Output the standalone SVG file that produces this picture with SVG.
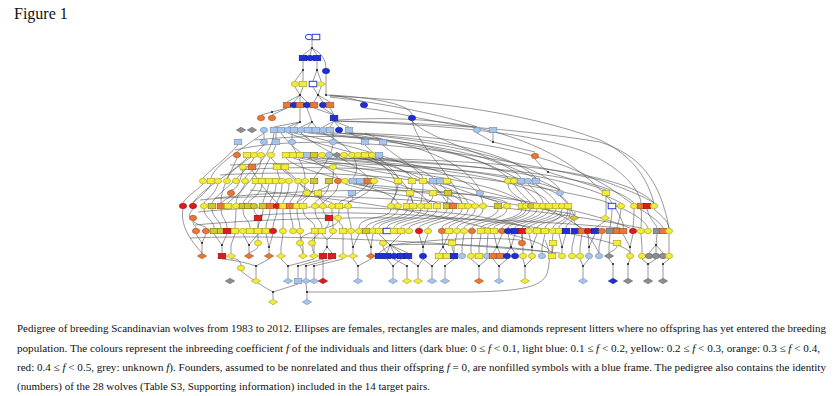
<svg xmlns="http://www.w3.org/2000/svg" width="839" height="396" viewBox="0 0 839 396">
<style>
.db{fill:#1f2fd6;stroke:#0d1590}
.lb{fill:#a9c4e8;stroke:#6d8db8}
.y{fill:#f3ec3a;stroke:#a39c1c}
.ol{fill:#d2c832;stroke:#7d7614}
.o{fill:#e77838;stroke:#a24e1c}
.r{fill:#e01b1b;stroke:#8c0c0c}
.g{fill:#8e8e8e;stroke:#606060}
.f{fill:#fff;stroke:#2a3be0;stroke-width:1}
use{stroke-width:.6}
.c{fill:none;stroke:#505050;stroke-width:.65;stroke-opacity:.9}
.j{fill:#222}
.t{font-family:"Liberation Serif","Times New Roman",serif;fill:#111}
</style>
<defs>
<ellipse id="E" rx="3.6" ry="2.7"/>
<rect id="R" x="-3.8" y="-2.7" width="7.6" height="5.4"/>
<path id="D" d="M-4.6,0L0,-2.7L4.6,0L0,2.7Z"/>
</defs>
<rect width="839" height="396" fill="#fff"/>
<text class="t" x="14" y="19" font-size="16">Figure 1</text>
<g id="connectors">
<path class="c" d="M312,40V48M312,48L303,55M312,48L310,55M312,48L317,55M312,48Q326,55 326,68M303,61V70L295,81M303,70V81M317,61V70L313,81M317,70L321,81M326,74V95M295,87L300,95M303,87L300,95M300,95L287,102M300,95L294,102M300,95L300,102M300,95L307,102M313,87L318,95M321,87L318,95M318,95L314,102M318,95L323,102M318,95L330,102M326,95C345,96 355,100 364,102M330,95C380,98 410,105 412,115M330,96C420,100 520,110 600,140C625,152 645,170 654,203M330,97C400,105 460,120 477,127"/>
<path class="c" d="M287,108L272,112L261,115M287,108L272,115M300,108L300,122M307,108L312,122M314,108L334,115M323,108L334,115M330,108L334,115M334,121C400,122 500,126 600,142C640,155 660,180 669,228M334,121C420,124 520,130 580,150C620,165 640,190 641,203M300,122L288,127M300,122L294,127M300,122L274,127M312,122L301,127M312,122L308,127M312,122L316,127M334,121L323,127M334,121L330,127M334,121L339,127M334,121L349,127M364,108C400,112 440,125 477,127M412,121C420,150 450,170 462,203M493,133V142M477,133L493,142M493,142L535,152M535,159C540,165 545,170 548,172L606,190M412,121C430,140 480,150 560,190"/>
<path class="c" d="M264,133C240,150 215,165 211,178M274,133C270,160 250,170 245,178M281,133C300,160 330,165 338,178M288,133C330,150 400,160 412,178M294,133C350,145 420,165 433,178M301,133C320,150 360,165 368,178M308,133C380,140 480,150 508,178M316,133C390,140 500,150 521,178M323,133C360,150 360,170 353,178M330,133C420,135 510,150 536,178M339,133C400,140 460,155 480,190M349,133C430,140 540,160 560,190M238,145C225,160 210,170 203,178M264,145C250,160 230,170 227,178M276,145C270,160 262,170 262,178M292,145C300,160 305,170 305,178M333,145C330,160 320,170 314,178M365,145C380,160 395,170 398,178M383,145C400,160 420,170 423,178M264,133V139M276,133V139M292,133L292,139M333,133V139M349,133C360,138 365,140 365,139M365,133C375,138 383,139 383,139"/>
<path class="c" d="M247,158C230,175 200,190 193,203M254,158C240,180 215,195 212,203M261,158C262,175 236,190 236,203M271,158C290,180 320,195 323,203M286,158C300,175 390,185 398,203M293,158C330,170 420,180 428,203M300,158C360,170 460,180 468,203M307,158C380,170 500,180 522,203M313,158C400,165 530,175 549,203M322,158C420,165 550,175 568,203M329,158C430,160 560,170 621,203M344,158C440,165 600,170 634,203M352,158C450,160 620,165 654,203M358,158C420,170 440,190 447,203M364,158C400,170 410,190 413,203M372,158C400,175 400,190 391,203M379,158C450,170 480,185 483,203M237,158C230,175 220,190 221,203M243,170C240,180 238,190 231,190M252,170C260,185 270,195 277,203M277,170C280,180 282,188 282,178M285,170C300,180 303,190 307,190M333,170C335,180 330,188 318,190"/>
<path class="c" d="M203,184C195,192 185,198 183,203M211,184C205,195 195,200 193,203M218,184C215,195 205,200 204,203M245,184C240,195 230,200 228,203M256,184C250,195 244,200 243,203M262,184C262,195 248,200 248,203M269,184C266,195 263,200 263,203M276,184C276,195 270,200 270,203M282,184C282,195 277,200 277,203M289,184C289,195 283,200 283,203M298,184C298,195 290,200 290,203M305,184C305,195 297,200 297,203M314,184C314,195 303,200 303,203M329,184C329,195 315,200 315,203M338,184C338,195 323,200 323,203M345,184C380,195 420,195 437,203M353,184C400,192 470,195 475,203M360,184C420,190 500,195 507,203M368,184C360,195 340,200 339,203M374,184C370,195 350,200 348,203M398,184C398,195 391,200 391,203M412,184C412,195 407,200 407,203M423,184C423,195 421,200 421,203M433,184C440,195 453,200 453,203M440,184C450,195 462,200 462,203M447,184C470,195 498,200 498,203M508,184C508,195 526,200 526,203M514,184C520,195 530,200 530,203M521,184C530,195 537,200 537,203M528,184C540,195 543,200 543,203M536,184C550,195 556,200 556,203M480,196C500,205 560,210 574,215M560,196C570,205 572,212 574,215M606,196V215M231,196C225,200 222,202 221,203M307,196C300,200 298,202 297,203M318,196C320,200 332,202 332,203M352,196C355,200 348,202 348,203M410,196C412,200 413,202 413,203M433,196C433,200 428,202 428,203M448,196C448,200 447,202 447,203"/>
<path class="c" d="M235,150C300,135 420,140 600,180C630,190 650,200 654,203M240,170C300,165 450,165 600,200C630,210 645,220 648,228M200,200C300,190 500,200 641,228M195,225C300,215 480,215 620,228M190,238C260,235 400,238 560,253M215,198C350,185 520,185 630,228M230,165C330,160 500,165 560,190M255,140C350,130 450,140 520,180M338,120C420,115 540,120 610,200C620,215 625,225 623,228M349,133C450,135 560,150 620,195C640,210 660,220 663,228M220,175C300,170 460,172 560,215C580,225 590,235 599,253M250,190C350,200 430,210 530,240C545,245 550,250 552,253M260,215C340,210 480,212 600,240C620,245 630,250 630,253M198,212C260,205 380,205 470,215C500,220 520,225 529,228M183,209C180,225 190,240 202,253M193,209C188,215 188,220 193,215M654,209C660,215 668,220 669,228M605,221C600,225 595,228 595,228M574,221C575,225 582,228 582,228M612,209C612,218 610,225 610,228M621,209C620,220 617,225 617,228M634,209C634,220 633,225 633,228M641,209C642,218 641,225 641,228M647,209C650,220 657,225 657,228"/>
<path class="c" d="M204,209C204,218 214,220 214,228M212,209C212,218 221,220 221,228M221,209C221,218 227,220 227,228M236,209C236,218 235,222 235,228M243,209C243,220 250,220 250,228M254,209C254,215 258,215 258,215M263,209C263,220 258,222 258,228M270,209C270,218 266,220 266,228M277,209C277,218 273,220 273,228M283,209C283,218 283,222 283,228M290,209C290,220 293,220 293,228M297,209C297,220 300,220 300,228M303,209C303,220 315,220 315,228M315,209C315,220 322,220 322,228M323,209C323,216 329,215 329,215M332,209C332,220 333,220 333,228M339,209C339,215 338,215 338,215M339,221C339,224 343,225 343,228M348,209C348,220 351,220 351,228M391,209C391,220 359,215 359,228M398,209C398,220 366,220 366,228M407,209C407,220 373,220 373,228M413,209C413,220 379,220 379,228M421,209C421,220 387,220 387,228M428,209C428,220 394,220 394,228M437,209C437,220 401,222 401,228M447,209C447,220 409,222 409,228M453,209C453,220 419,222 419,228M462,209C462,220 428,222 428,228M468,209C468,220 442,222 442,228M475,209C475,220 449,222 449,228M483,209C483,220 457,222 457,228M498,209C498,220 464,222 464,228M507,209C507,220 472,222 472,228M522,209C522,220 481,222 481,228M526,209C526,220 488,222 488,228M530,209C530,220 494,222 494,228M537,209C537,220 502,222 502,228M543,209C543,220 508,222 508,228M549,209C549,220 515,222 515,228M556,209C556,220 522,222 522,228M562,209C562,220 529,222 529,228M568,209C568,220 537,222 537,228M562,212C560,222 545,222 545,228M568,212C568,222 553,222 553,228M570,210C572,222 559,222 559,228M575,212C576,222 566,222 566,228M193,221C193,226 196,226 196,228M193,221C198,226 206,226 206,228M258,221C258,230 258,236 258,240M329,221C329,228 322,230 312,240M338,221C338,228 300,232 300,240"/>
<path class="c" d="M202,253V243L196,234M202,243L206,234M222,253V245L214,234M222,245L227,234M231,253V245L235,234M249,253V245L243,234M249,245L258,234M269,253V247L266,234M269,247L273,234M281,253V247L283,234M303,253V247L300,234M314,253V247L315,234M327,247L323,253M327,247L332,253M327,247V240L322,234M327,240L333,234M343,253V247L343,234M353,253V247L351,234M353,247L359,234M371,253V247L366,234M371,247L373,234M390,245L379,253M390,245L387,253M390,245L394,253M390,245L401,253M390,245L408,253M390,245L379,234M390,245L401,234M390,245C430,240 480,236 520,240M390,245C440,243 500,245 548,252M423,253V247L419,234M423,247L428,234M443,247L439,253M443,247L447,253M443,247L442,234M443,247L449,234M454,253V246L457,234M462,253V247L464,234M471,253V247L472,234M479,253V247L481,234M487,253V247L488,234M497,247L493,253M497,247L500,253M497,247L494,234M497,247L502,234M511,247L507,253M511,247L515,253M511,247L508,234M511,247L515,234M523,253V247L522,234M532,253V247L529,234M532,247L537,234M542,253V247L545,234M552,253V246L553,234M562,253V247L559,234M562,247L566,234M572,253V247L575,234M580,253V247L582,234M589,253V247L588,234M589,247L595,234M599,253V247L602,234M609,253V247L610,234M630,253V247L623,234M630,247L633,234M642,253V247L641,234M656,245L649,253M656,245L656,253M656,245L663,253M656,245L657,234M669,253V234M258,246C258,250 250,252 249,253M300,246C302,250 303,252 303,253M312,246C312,250 314,252 314,253M383,246C383,250 387,252 387,253M452,246C452,250 454,252 454,253M522,234V240M553,246C553,250 552,252 552,253M617,246C617,250 609,252 609,253"/>
<path class="c" d="M256,278V266M256,266C245,262 232,260 222,259M256,266L269,259M288,278V266L281,259M288,266L314,259M298,278V266L323,259M306,278V266L332,259M314,278V266L343,259M323,278V259M358,278V266L353,259M358,266L371,259M393,278V266L387,259M393,266L401,259M407,278V266L394,259M418,278V266L408,259M418,266L423,259M432,278V266L423,259M432,266L439,259M445,278V266L454,259M479,278V266L471,259M479,266L487,259M499,278V266L493,259M499,266L507,259M525,278V266L523,259M525,266L532,259M583,278V266L580,259M583,266L589,259M613,278V264L609,259M628,278V264L630,259M648,278V264L642,259M648,264L656,259M663,278V264L669,259M241,265C240,260 236,258 231,259M273,299V292M273,292C262,286 250,278 241,271M273,292L298,284M307,299V292L306,284M307,292H470C520,291 545,288 548,270C550,260 550,250 545,240"/>
<g class="j">
<circle cx="312" cy="48" r="1.1"/><circle cx="303" cy="70" r="1.1"/><circle cx="317" cy="70" r="1.1"/><circle cx="300" cy="95" r="1.1"/><circle cx="318" cy="95" r="1.1"/><circle cx="326" cy="95" r="1.1"/><circle cx="300" cy="122" r="1.1"/><circle cx="312" cy="122" r="1.1"/><circle cx="272" cy="112" r="1.1"/><circle cx="493" cy="142" r="1.1"/><circle cx="548" cy="172" r="1.1"/>
<circle cx="202" cy="243" r="1.1"/><circle cx="222" cy="245" r="1.1"/><circle cx="249" cy="245" r="1.1"/><circle cx="269" cy="247" r="1.1"/><circle cx="327" cy="247" r="1.1"/><circle cx="353" cy="247" r="1.1"/><circle cx="371" cy="247" r="1.1"/><circle cx="390" cy="245" r="1.1"/><circle cx="423" cy="247" r="1.1"/><circle cx="443" cy="247" r="1.1"/><circle cx="497" cy="247" r="1.1"/><circle cx="511" cy="247" r="1.1"/><circle cx="532" cy="247" r="1.1"/><circle cx="562" cy="247" r="1.1"/><circle cx="589" cy="247" r="1.1"/><circle cx="630" cy="247" r="1.1"/><circle cx="656" cy="245" r="1.1"/>
<circle cx="256" cy="266" r="1.1"/><circle cx="288" cy="266" r="1.1"/><circle cx="298" cy="266" r="1.1"/><circle cx="306" cy="266" r="1.1"/><circle cx="314" cy="266" r="1.1"/><circle cx="358" cy="266" r="1.1"/><circle cx="393" cy="266" r="1.1"/><circle cx="407" cy="266" r="1.1"/><circle cx="418" cy="266" r="1.1"/><circle cx="432" cy="266" r="1.1"/><circle cx="445" cy="266" r="1.1"/><circle cx="479" cy="266" r="1.1"/><circle cx="499" cy="266" r="1.1"/><circle cx="525" cy="266" r="1.1"/><circle cx="583" cy="266" r="1.1"/><circle cx="613" cy="264" r="1.1"/><circle cx="628" cy="264" r="1.1"/><circle cx="648" cy="264" r="1.1"/><circle cx="663" cy="264" r="1.1"/><circle cx="273" cy="292" r="1.1"/><circle cx="307" cy="292" r="1.1"/>
</g>
</g>
<g id="nodes">
<g id="n1"><use href="#E" class="f" x="309" y="37"/></g>
<g id="n2"><use href="#R" class="f" x="316" y="37"/></g>
<g id="n3"><use href="#R" class="db" x="303" y="58"/></g>
<g id="n4"><use href="#E" class="db" x="310" y="58"/></g>
<g id="n5"><use href="#R" class="db" x="317" y="58"/></g>
<g id="n6"><use href="#E" class="db" x="326" y="71"/></g>
<g id="n7"><use href="#E" class="y" x="295" y="84"/></g>
<g id="n8"><use href="#R" class="y" x="303" y="84"/></g>
<g id="n9"><use href="#R" class="f" x="313" y="84"/></g>
<g id="n10"><use href="#D" class="y" x="321" y="84"/></g>
<g id="n11"><use href="#R" class="o" x="287" y="105"/></g>
<g id="n12"><use href="#E" class="db" x="294" y="105"/></g>
<g id="n13"><use href="#R" class="o" x="300" y="105"/></g>
<g id="n14"><use href="#E" class="db" x="307" y="105"/></g>
<g id="n15"><use href="#R" class="o" x="314" y="105"/></g>
<g id="n16"><use href="#E" class="db" x="323" y="105"/></g>
<g id="n17"><use href="#R" class="o" x="330" y="105"/></g>
<g id="n18"><use href="#E" class="db" x="364" y="105"/></g>
<g id="n19"><use href="#E" class="o" x="261" y="118"/></g>
<g id="n20"><use href="#E" class="o" x="272" y="118"/></g>
<g id="n21"><use href="#R" class="db" x="334" y="118"/></g>
<g id="n22"><use href="#E" class="db" x="412" y="118"/></g>
<g id="n23"><use href="#D" class="g" x="241" y="130"/></g>
<g id="n24"><use href="#D" class="g" x="252" y="130"/></g>
<g id="n25"><use href="#E" class="lb" x="264" y="130"/></g>
<g id="n26"><use href="#R" class="lb" x="274" y="130"/></g>
<g id="n27"><use href="#R" class="lb" x="281" y="130"/></g>
<g id="n28"><use href="#E" class="lb" x="288" y="130"/></g>
<g id="n29"><use href="#R" class="lb" x="294" y="130"/></g>
<g id="n30"><use href="#E" class="lb" x="301" y="130"/></g>
<g id="n31"><use href="#R" class="lb" x="308" y="130"/></g>
<g id="n32"><use href="#R" class="lb" x="316" y="130"/></g>
<g id="n33"><use href="#E" class="lb" x="323" y="130"/></g>
<g id="n34"><use href="#R" class="lb" x="330" y="130"/></g>
<g id="n35"><use href="#E" class="db" x="339" y="130"/></g>
<g id="n36"><use href="#R" class="lb" x="349" y="130"/></g>
<g id="n37"><use href="#E" class="lb" x="477" y="130"/></g>
<g id="n38"><use href="#R" class="lb" x="493" y="130"/></g>
<g id="n39"><use href="#R" class="lb" x="238" y="142"/></g>
<g id="n40"><use href="#E" class="lb" x="264" y="142"/></g>
<g id="n41"><use href="#R" class="lb" x="276" y="142"/></g>
<g id="n42"><use href="#E" class="lb" x="292" y="142"/></g>
<g id="n43"><use href="#E" class="lb" x="333" y="142"/></g>
<g id="n44"><use href="#R" class="lb" x="365" y="142"/></g>
<g id="n45"><use href="#R" class="lb" x="383" y="142"/></g>
<g id="n46"><use href="#E" class="o" x="237" y="155"/></g>
<g id="n47"><use href="#R" class="y" x="247" y="155"/></g>
<g id="n48"><use href="#E" class="y" x="254" y="155"/></g>
<g id="n49"><use href="#E" class="y" x="261" y="155"/></g>
<g id="n50"><use href="#E" class="y" x="271" y="155"/></g>
<g id="n51"><use href="#R" class="y" x="286" y="155"/></g>
<g id="n52"><use href="#R" class="y" x="293" y="155"/></g>
<g id="n53"><use href="#R" class="y" x="300" y="155"/></g>
<g id="n54"><use href="#R" class="lb" x="307" y="155"/></g>
<g id="n55"><use href="#R" class="ol" x="314" y="155"/></g>
<g id="n56"><use href="#E" class="y" x="322" y="155"/></g>
<g id="n57"><use href="#E" class="lb" x="329" y="155"/></g>
<g id="n58"><use href="#D" class="g" x="337" y="155"/></g>
<g id="n59"><use href="#E" class="y" x="344" y="155"/></g>
<g id="n60"><use href="#E" class="y" x="352" y="155"/></g>
<g id="n61"><use href="#E" class="y" x="358" y="155"/></g>
<g id="n62"><use href="#R" class="y" x="365" y="155"/></g>
<g id="n63"><use href="#E" class="y" x="372" y="155"/></g>
<g id="n64"><use href="#R" class="lb" x="379" y="155"/></g>
<g id="n65"><use href="#E" class="o" x="535" y="156"/></g>
<g id="n66"><use href="#E" class="y" x="243" y="167"/></g>
<g id="n67"><use href="#R" class="o" x="252" y="167"/></g>
<g id="n68"><use href="#R" class="y" x="277" y="167"/></g>
<g id="n69"><use href="#R" class="y" x="285" y="167"/></g>
<g id="n70"><use href="#E" class="y" x="333" y="167"/></g>
<g id="n71"><use href="#E" class="y" x="203" y="181"/></g>
<g id="n72"><use href="#R" class="y" x="211" y="181"/></g>
<g id="n73"><use href="#E" class="y" x="218" y="181"/></g>
<g id="n74"><use href="#E" class="y" x="227" y="181"/></g>
<g id="n75"><use href="#E" class="y" x="236" y="181"/></g>
<g id="n76"><use href="#E" class="y" x="245" y="181"/></g>
<g id="n77"><use href="#R" class="y" x="256" y="181"/></g>
<g id="n78"><use href="#R" class="y" x="262" y="181"/></g>
<g id="n79"><use href="#R" class="y" x="269" y="181"/></g>
<g id="n80"><use href="#R" class="y" x="276" y="181"/></g>
<g id="n81"><use href="#E" class="y" x="282" y="181"/></g>
<g id="n82"><use href="#E" class="y" x="289" y="181"/></g>
<g id="n83"><use href="#E" class="y" x="298" y="181"/></g>
<g id="n84"><use href="#E" class="y" x="305" y="181"/></g>
<g id="n85"><use href="#R" class="ol" x="314" y="181"/></g>
<g id="n86"><use href="#R" class="ol" x="329" y="181"/></g>
<g id="n87"><use href="#E" class="o" x="338" y="181"/></g>
<g id="n88"><use href="#E" class="y" x="345" y="181"/></g>
<g id="n89"><use href="#R" class="lb" x="353" y="181"/></g>
<g id="n90"><use href="#R" class="lb" x="360" y="181"/></g>
<g id="n91"><use href="#R" class="o" x="368" y="181"/></g>
<g id="n92"><use href="#E" class="y" x="374" y="181"/></g>
<g id="n93"><use href="#R" class="y" x="398" y="181"/></g>
<g id="n94"><use href="#R" class="y" x="412" y="181"/></g>
<g id="n95"><use href="#R" class="y" x="423" y="181"/></g>
<g id="n96"><use href="#R" class="lb" x="433" y="181"/></g>
<g id="n97"><use href="#R" class="lb" x="440" y="181"/></g>
<g id="n98"><use href="#R" class="y" x="447" y="181"/></g>
<g id="n99"><use href="#E" class="y" x="508" y="181"/></g>
<g id="n100"><use href="#E" class="y" x="514" y="181"/></g>
<g id="n101"><use href="#R" class="lb" x="521" y="181"/></g>
<g id="n102"><use href="#E" class="lb" x="528" y="181"/></g>
<g id="n103"><use href="#R" class="lb" x="536" y="181"/></g>
<g id="n104"><use href="#E" class="o" x="231" y="193"/></g>
<g id="n105"><use href="#E" class="y" x="307" y="193"/></g>
<g id="n106"><use href="#R" class="y" x="318" y="193"/></g>
<g id="n107"><use href="#R" class="lb" x="352" y="193"/></g>
<g id="n108"><use href="#R" class="y" x="410" y="193"/></g>
<g id="n109"><use href="#R" class="y" x="433" y="193"/></g>
<g id="n110"><use href="#R" class="ol" x="448" y="193"/></g>
<g id="n111"><use href="#E" class="lb" x="480" y="193"/></g>
<g id="n112"><use href="#E" class="lb" x="560" y="193"/></g>
<g id="n113"><use href="#R" class="y" x="606" y="193"/></g>
<g id="n114"><use href="#E" class="r" x="183" y="206"/></g>
<g id="n115"><use href="#E" class="r" x="193" y="206"/></g>
<g id="n116"><use href="#E" class="y" x="204" y="206"/></g>
<g id="n117"><use href="#R" class="ol" x="212" y="206"/></g>
<g id="n118"><use href="#R" class="o" x="221" y="206"/></g>
<g id="n119"><use href="#R" class="y" x="228" y="206"/></g>
<g id="n120"><use href="#E" class="y" x="236" y="206"/></g>
<g id="n121"><use href="#R" class="ol" x="243" y="206"/></g>
<g id="n122"><use href="#R" class="ol" x="248" y="206"/></g>
<g id="n123"><use href="#E" class="ol" x="254" y="206"/></g>
<g id="n124"><use href="#R" class="ol" x="263" y="206"/></g>
<g id="n125"><use href="#R" class="o" x="270" y="206"/></g>
<g id="n126"><use href="#E" class="r" x="277" y="206"/></g>
<g id="n127"><use href="#R" class="y" x="283" y="206"/></g>
<g id="n128"><use href="#R" class="o" x="290" y="206"/></g>
<g id="n129"><use href="#R" class="y" x="297" y="206"/></g>
<g id="n130"><use href="#R" class="y" x="303" y="206"/></g>
<g id="n131"><use href="#E" class="y" x="315" y="206"/></g>
<g id="n132"><use href="#E" class="y" x="323" y="206"/></g>
<g id="n133"><use href="#E" class="y" x="332" y="206"/></g>
<g id="n134"><use href="#R" class="y" x="339" y="206"/></g>
<g id="n135"><use href="#E" class="y" x="348" y="206"/></g>
<g id="n136"><use href="#E" class="y" x="391" y="206"/></g>
<g id="n137"><use href="#E" class="y" x="398" y="206"/></g>
<g id="n138"><use href="#R" class="y" x="407" y="206"/></g>
<g id="n139"><use href="#R" class="y" x="413" y="206"/></g>
<g id="n140"><use href="#E" class="y" x="421" y="206"/></g>
<g id="n141"><use href="#R" class="y" x="428" y="206"/></g>
<g id="n142"><use href="#R" class="y" x="437" y="206"/></g>
<g id="n143"><use href="#R" class="ol" x="447" y="206"/></g>
<g id="n144"><use href="#R" class="o" x="453" y="206"/></g>
<g id="n145"><use href="#R" class="y" x="462" y="206"/></g>
<g id="n146"><use href="#E" class="y" x="468" y="206"/></g>
<g id="n147"><use href="#E" class="y" x="475" y="206"/></g>
<g id="n148"><use href="#E" class="y" x="483" y="206"/></g>
<g id="n149"><use href="#R" class="ol" x="498" y="206"/></g>
<g id="n150"><use href="#E" class="y" x="507" y="206"/></g>
<g id="n151"><use href="#R" class="y" x="522" y="206"/></g>
<g id="n152"><use href="#E" class="y" x="526" y="206"/></g>
<g id="n153"><use href="#E" class="ol" x="531" y="206"/></g>
<g id="n154"><use href="#R" class="y" x="537" y="206"/></g>
<g id="n155"><use href="#E" class="y" x="543" y="206"/></g>
<g id="n156"><use href="#R" class="y" x="549" y="206"/></g>
<g id="n157"><use href="#R" class="y" x="556" y="206"/></g>
<g id="n158"><use href="#E" class="y" x="562" y="206"/></g>
<g id="n159"><use href="#R" class="y" x="568" y="206"/></g>
<g id="n160"><use href="#R" class="f" x="612" y="206"/></g>
<g id="n161"><use href="#E" class="y" x="621" y="206"/></g>
<g id="n162"><use href="#E" class="y" x="634" y="206"/></g>
<g id="n163"><use href="#R" class="o" x="641" y="206"/></g>
<g id="n164"><use href="#R" class="r" x="647" y="206"/></g>
<g id="n165"><use href="#E" class="y" x="654" y="206"/></g>
<g id="n166"><use href="#E" class="o" x="193" y="218"/></g>
<g id="n167"><use href="#R" class="r" x="258" y="218"/></g>
<g id="n168"><use href="#R" class="r" x="329" y="218"/></g>
<g id="n169"><use href="#E" class="y" x="338" y="218"/></g>
<g id="n170"><use href="#D" class="ol" x="574" y="218"/></g>
<g id="n171"><use href="#D" class="y" x="605" y="218"/></g>
<g id="n172"><use href="#E" class="o" x="196" y="231"/></g>
<g id="n173"><use href="#E" class="o" x="206" y="231"/></g>
<g id="n174"><use href="#R" class="ol" x="214" y="231"/></g>
<g id="n175"><use href="#R" class="ol" x="221" y="231"/></g>
<g id="n176"><use href="#R" class="r" x="227" y="231"/></g>
<g id="n177"><use href="#R" class="y" x="235" y="231"/></g>
<g id="n178"><use href="#E" class="y" x="243" y="231"/></g>
<g id="n179"><use href="#R" class="y" x="250" y="231"/></g>
<g id="n180"><use href="#R" class="y" x="258" y="231"/></g>
<g id="n181"><use href="#R" class="y" x="266" y="231"/></g>
<g id="n182"><use href="#E" class="r" x="273" y="231"/></g>
<g id="n183"><use href="#E" class="y" x="283" y="231"/></g>
<g id="n184"><use href="#E" class="y" x="293" y="231"/></g>
<g id="n185"><use href="#E" class="y" x="300" y="231"/></g>
<g id="n186"><use href="#R" class="y" x="315" y="231"/></g>
<g id="n187"><use href="#R" class="y" x="322" y="231"/></g>
<g id="n188"><use href="#E" class="y" x="333" y="231"/></g>
<g id="n189"><use href="#R" class="y" x="343" y="231"/></g>
<g id="n190"><use href="#E" class="y" x="351" y="231"/></g>
<g id="n191"><use href="#E" class="y" x="359" y="231"/></g>
<g id="n192"><use href="#R" class="ol" x="366" y="231"/></g>
<g id="n193"><use href="#E" class="y" x="373" y="231"/></g>
<g id="n194"><use href="#R" class="y" x="379" y="231"/></g>
<g id="n195"><use href="#R" class="f" x="387" y="231"/></g>
<g id="n196"><use href="#R" class="y" x="394" y="231"/></g>
<g id="n197"><use href="#R" class="y" x="401" y="231"/></g>
<g id="n198"><use href="#E" class="y" x="409" y="231"/></g>
<g id="n199"><use href="#E" class="r" x="419" y="231"/></g>
<g id="n200"><use href="#E" class="y" x="428" y="231"/></g>
<g id="n201"><use href="#E" class="o" x="442" y="231"/></g>
<g id="n202"><use href="#R" class="y" x="449" y="231"/></g>
<g id="n203"><use href="#E" class="y" x="457" y="231"/></g>
<g id="n204"><use href="#E" class="y" x="464" y="231"/></g>
<g id="n205"><use href="#E" class="o" x="472" y="231"/></g>
<g id="n206"><use href="#R" class="y" x="481" y="231"/></g>
<g id="n207"><use href="#E" class="y" x="488" y="231"/></g>
<g id="n208"><use href="#R" class="y" x="494" y="231"/></g>
<g id="n209"><use href="#E" class="o" x="502" y="231"/></g>
<g id="n210"><use href="#E" class="db" x="508" y="231"/></g>
<g id="n211"><use href="#R" class="db" x="515" y="231"/></g>
<g id="n212"><use href="#R" class="r" x="522" y="231"/></g>
<g id="n213"><use href="#E" class="y" x="529" y="231"/></g>
<g id="n214"><use href="#R" class="y" x="537" y="231"/></g>
<g id="n215"><use href="#R" class="y" x="545" y="231"/></g>
<g id="n216"><use href="#E" class="y" x="553" y="231"/></g>
<g id="n217"><use href="#R" class="y" x="559" y="231"/></g>
<g id="n218"><use href="#R" class="db" x="566" y="231"/></g>
<g id="n219"><use href="#R" class="db" x="575" y="231"/></g>
<g id="n220"><use href="#R" class="o" x="582" y="231"/></g>
<g id="n221"><use href="#E" class="r" x="588" y="231"/></g>
<g id="n222"><use href="#R" class="db" x="595" y="231"/></g>
<g id="n223"><use href="#E" class="o" x="602" y="231"/></g>
<g id="n224"><use href="#R" class="g" x="610" y="231"/></g>
<g id="n225"><use href="#R" class="o" x="617" y="231"/></g>
<g id="n226"><use href="#R" class="o" x="623" y="231"/></g>
<g id="n227"><use href="#E" class="r" x="633" y="231"/></g>
<g id="n228"><use href="#E" class="y" x="641" y="231"/></g>
<g id="n229"><use href="#E" class="y" x="648" y="231"/></g>
<g id="n230"><use href="#R" class="g" x="657" y="231"/></g>
<g id="n231"><use href="#R" class="o" x="663" y="231"/></g>
<g id="n232"><use href="#E" class="y" x="669" y="231"/></g>
<g id="n233"><use href="#E" class="y" x="258" y="243"/></g>
<g id="n234"><use href="#E" class="y" x="300" y="243"/></g>
<g id="n235"><use href="#E" class="y" x="312" y="243"/></g>
<g id="n236"><use href="#E" class="y" x="383" y="243"/></g>
<g id="n237"><use href="#R" class="y" x="452" y="243"/></g>
<g id="n238"><use href="#E" class="o" x="522" y="243"/></g>
<g id="n239"><use href="#R" class="y" x="553" y="243"/></g>
<g id="n240"><use href="#R" class="y" x="617" y="243"/></g>
<g id="n241"><use href="#D" class="o" x="202" y="256"/></g>
<g id="n242"><use href="#R" class="r" x="222" y="256"/></g>
<g id="n243"><use href="#D" class="y" x="231" y="256"/></g>
<g id="n244"><use href="#D" class="o" x="249" y="256"/></g>
<g id="n245"><use href="#D" class="o" x="269" y="256"/></g>
<g id="n246"><use href="#D" class="y" x="281" y="256"/></g>
<g id="n247"><use href="#D" class="y" x="303" y="256"/></g>
<g id="n248"><use href="#D" class="y" x="314" y="256"/></g>
<g id="n249"><use href="#R" class="r" x="323" y="256"/></g>
<g id="n250"><use href="#R" class="r" x="332" y="256"/></g>
<g id="n251"><use href="#D" class="y" x="343" y="256"/></g>
<g id="n252"><use href="#D" class="y" x="353" y="256"/></g>
<g id="n253"><use href="#D" class="o" x="371" y="256"/></g>
<g id="n254"><use href="#R" class="db" x="379" y="256"/></g>
<g id="n255"><use href="#R" class="db" x="387" y="256"/></g>
<g id="n256"><use href="#E" class="db" x="394" y="256"/></g>
<g id="n257"><use href="#R" class="db" x="401" y="256"/></g>
<g id="n258"><use href="#R" class="db" x="408" y="256"/></g>
<g id="n259"><use href="#E" class="db" x="423" y="256"/></g>
<g id="n260"><use href="#R" class="y" x="439" y="256"/></g>
<g id="n261"><use href="#R" class="y" x="447" y="256"/></g>
<g id="n262"><use href="#R" class="db" x="454" y="256"/></g>
<g id="n263"><use href="#E" class="lb" x="462" y="256"/></g>
<g id="n264"><use href="#E" class="y" x="471" y="256"/></g>
<g id="n265"><use href="#R" class="y" x="479" y="256"/></g>
<g id="n266"><use href="#E" class="lb" x="487" y="256"/></g>
<g id="n267"><use href="#R" class="o" x="493" y="256"/></g>
<g id="n268"><use href="#R" class="o" x="500" y="256"/></g>
<g id="n269"><use href="#E" class="db" x="507" y="256"/></g>
<g id="n270"><use href="#E" class="db" x="515" y="256"/></g>
<g id="n271"><use href="#E" class="y" x="523" y="256"/></g>
<g id="n272"><use href="#E" class="y" x="532" y="256"/></g>
<g id="n273"><use href="#E" class="lb" x="542" y="256"/></g>
<g id="n274"><use href="#R" class="y" x="552" y="256"/></g>
<g id="n275"><use href="#E" class="y" x="562" y="256"/></g>
<g id="n276"><use href="#E" class="y" x="572" y="256"/></g>
<g id="n277"><use href="#E" class="y" x="580" y="256"/></g>
<g id="n278"><use href="#E" class="lb" x="589" y="256"/></g>
<g id="n279"><use href="#E" class="lb" x="599" y="256"/></g>
<g id="n280"><use href="#D" class="g" x="609" y="256"/></g>
<g id="n281"><use href="#E" class="y" x="630" y="256"/></g>
<g id="n282"><use href="#E" class="y" x="642" y="256"/></g>
<g id="n283"><use href="#E" class="g" x="649" y="256"/></g>
<g id="n284"><use href="#E" class="g" x="656" y="256"/></g>
<g id="n285"><use href="#E" class="g" x="663" y="256"/></g>
<g id="n286"><use href="#E" class="y" x="669" y="256"/></g>
<g id="n287"><use href="#E" class="y" x="241" y="268"/></g>
<g id="n288"><use href="#D" class="g" x="230" y="281"/></g>
<g id="n289"><use href="#D" class="y" x="256" y="281"/></g>
<g id="n290"><use href="#D" class="lb" x="288" y="281"/></g>
<g id="n291"><use href="#R" class="lb" x="298" y="281"/></g>
<g id="n292"><use href="#D" class="lb" x="306" y="281"/></g>
<g id="n293"><use href="#D" class="lb" x="314" y="281"/></g>
<g id="n294"><use href="#D" class="r" x="323" y="281"/></g>
<g id="n295"><use href="#D" class="lb" x="358" y="281"/></g>
<g id="n296"><use href="#D" class="lb" x="393" y="281"/></g>
<g id="n297"><use href="#D" class="y" x="407" y="281"/></g>
<g id="n298"><use href="#D" class="y" x="418" y="281"/></g>
<g id="n299"><use href="#D" class="lb" x="432" y="281"/></g>
<g id="n300"><use href="#D" class="lb" x="445" y="281"/></g>
<g id="n301"><use href="#D" class="o" x="479" y="281"/></g>
<g id="n302"><use href="#D" class="lb" x="499" y="281"/></g>
<g id="n303"><use href="#D" class="y" x="525" y="281"/></g>
<g id="n304"><use href="#D" class="lb" x="583" y="281"/></g>
<g id="n305"><use href="#D" class="db" x="613" y="281"/></g>
<g id="n306"><use href="#D" class="g" x="628" y="281"/></g>
<g id="n307"><use href="#D" class="g" x="648" y="281"/></g>
<g id="n308"><use href="#D" class="g" x="663" y="281"/></g>
<g id="n309"><use href="#D" class="y" x="273" y="302"/></g>
<g id="n310"><use href="#D" class="lb" x="307" y="302"/></g>
</g>
<g id="caption" class="t" font-size="11">
<text x="17" y="332" textLength="809" lengthAdjust="spacingAndGlyphs">Pedigree of breeding Scandinavian wolves from 1983 to 2012. Ellipses are females, rectangles are males, and diamonds represent litters where no offspring has yet entered the breeding</text>
<text x="17" y="352" textLength="803" lengthAdjust="spacingAndGlyphs">population. The colours represent the inbreeding coefficient <tspan font-style="italic">f</tspan> of the individuals and litters (dark blue: 0 ≤ <tspan font-style="italic">f</tspan> &lt; 0.1, light blue: 0.1 ≤ <tspan font-style="italic">f</tspan> &lt; 0.2, yellow: 0.2 ≤ <tspan font-style="italic">f</tspan> &lt; 0.3, orange: 0.3 ≤ <tspan font-style="italic">f</tspan> &lt; 0.4,</text>
<text x="17" y="371" textLength="809" lengthAdjust="spacingAndGlyphs">red: 0.4 ≤ <tspan font-style="italic">f</tspan> &lt; 0.5, grey: unknown <tspan font-style="italic">f</tspan>). Founders, assumed to be nonrelated and thus their offspring <tspan font-style="italic">f</tspan> = 0, are nonfilled symbols with a blue frame. The pedigree also contains the identity</text>
<text x="17" y="390" textLength="413" lengthAdjust="spacingAndGlyphs">(numbers) of the 28 wolves (Table S3, Supporting information) included in the 14 target pairs.</text>
</g>
</svg>
